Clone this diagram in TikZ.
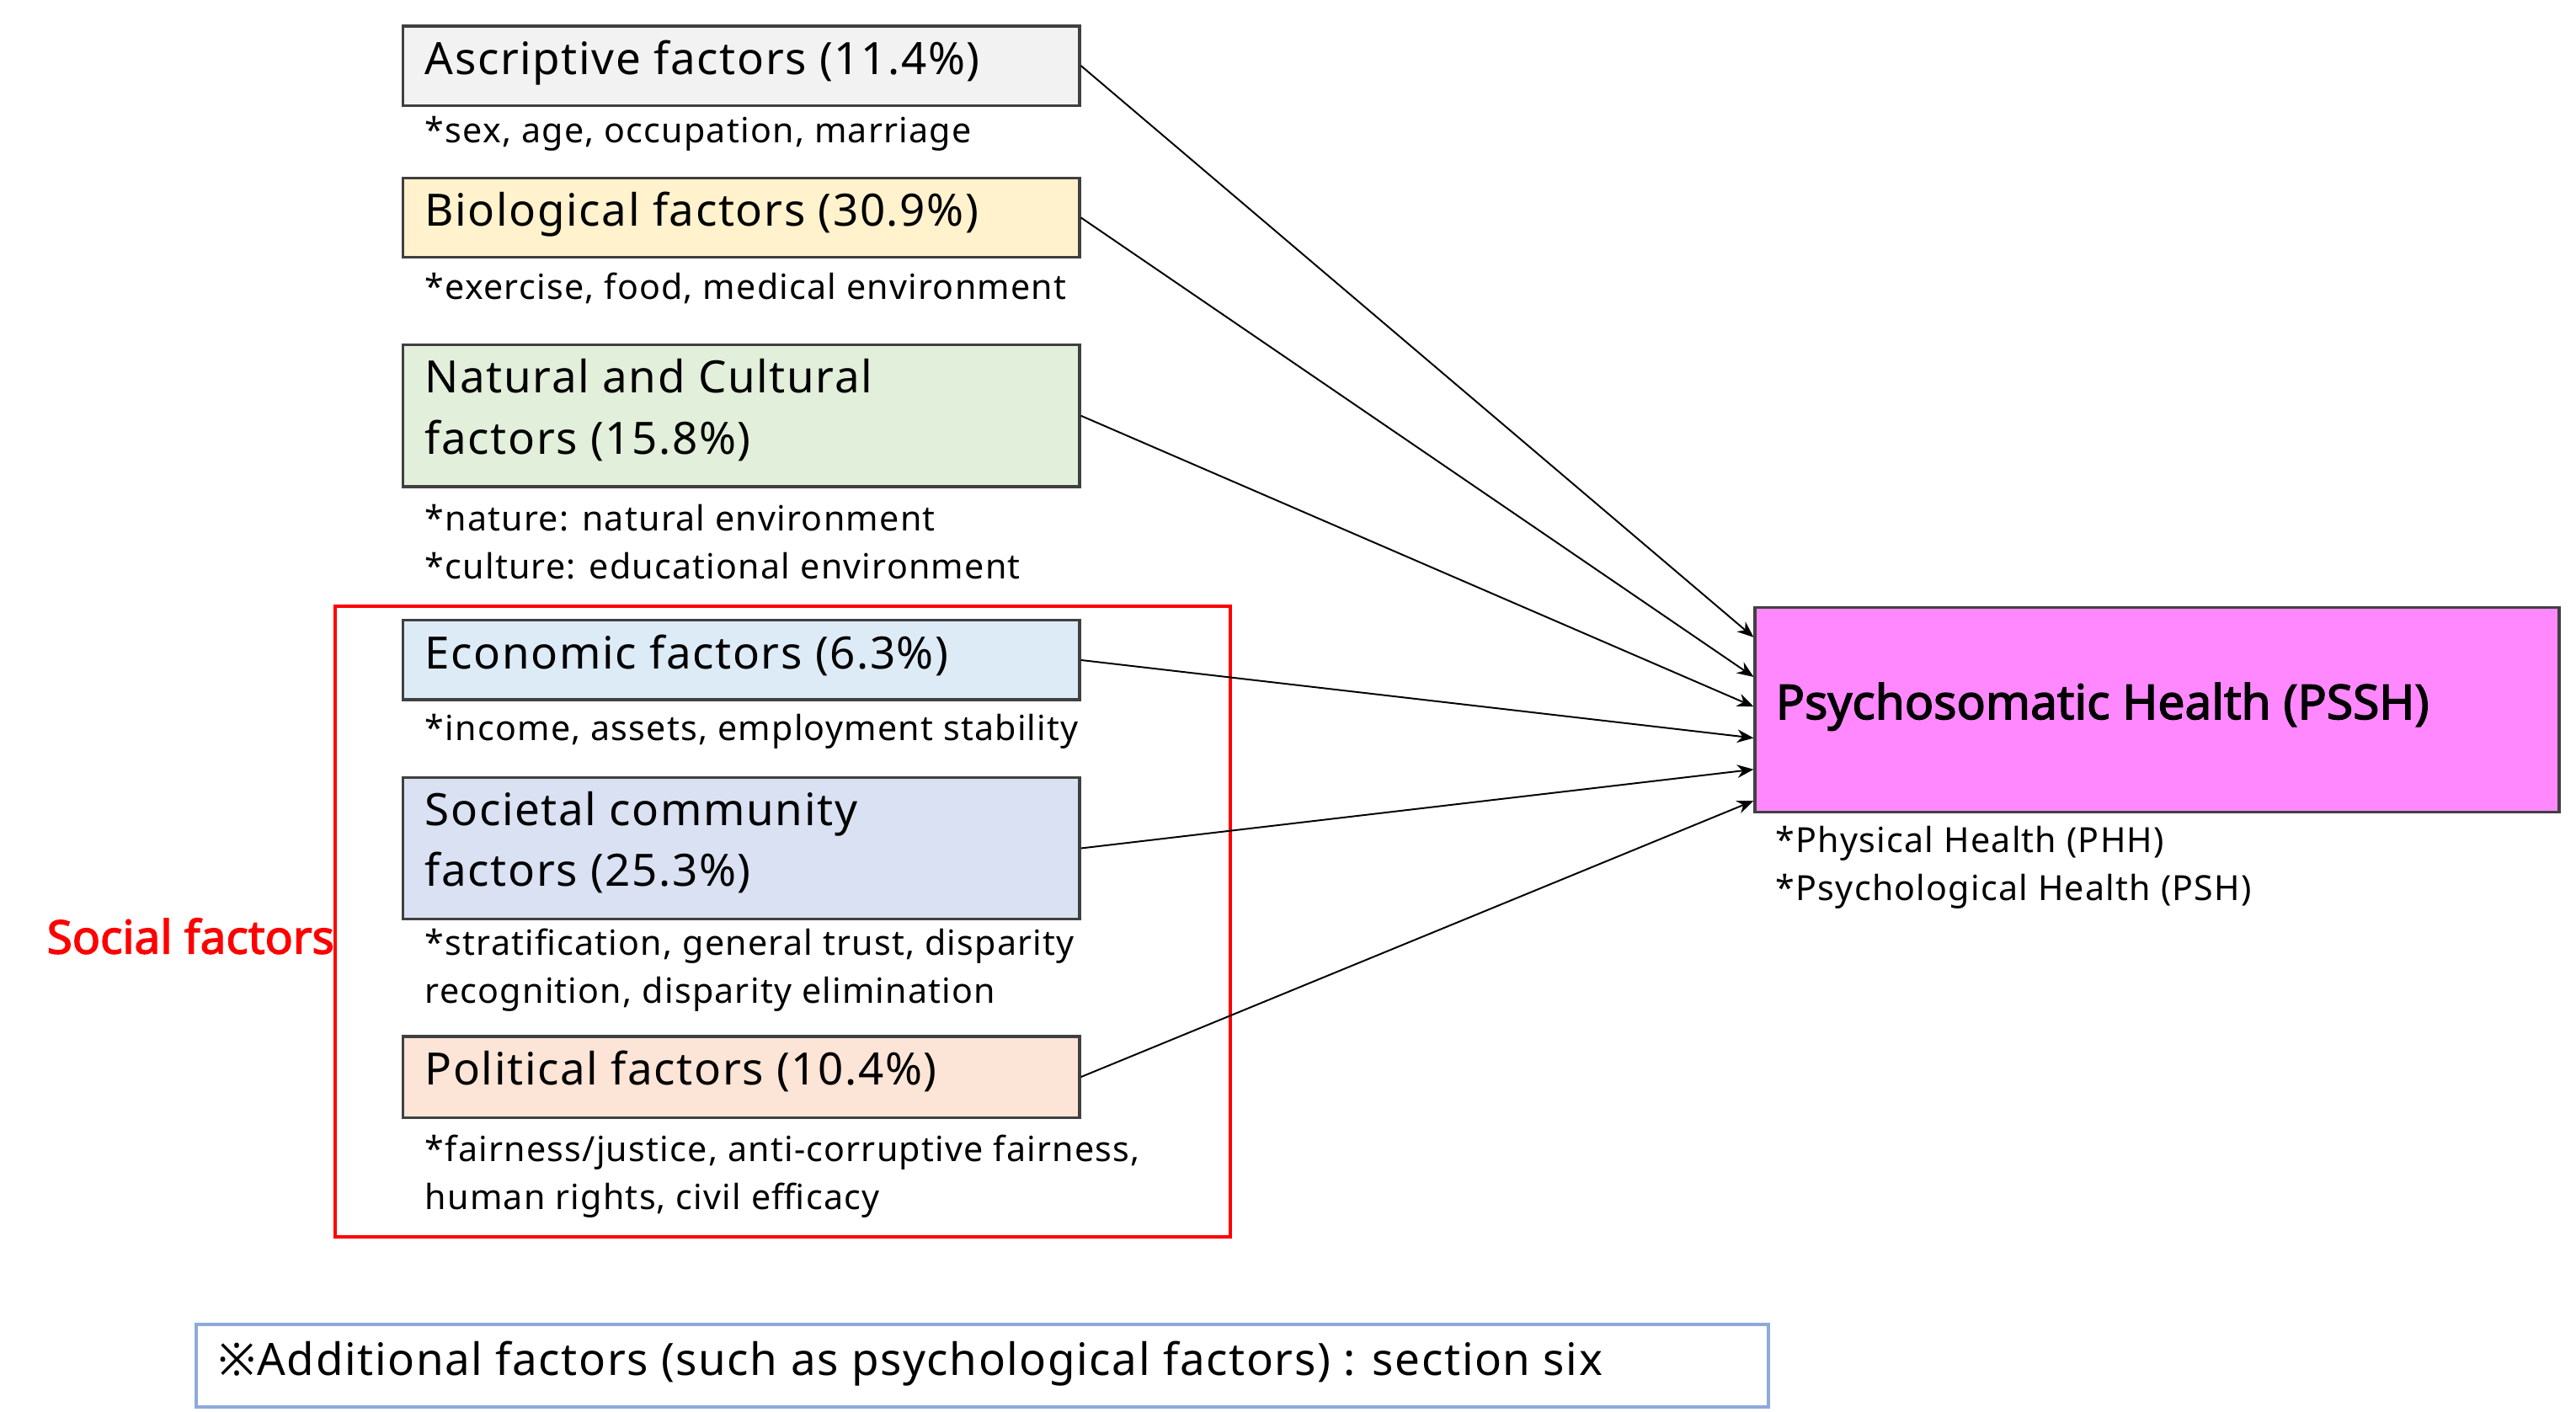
\documentclass[tikz,border=0pt]{standalone}
\usepackage{fontspec}
\setmainfont{Noto Sans}[LetterSpace=3]
\newfontfamily\bsans{Noto Sans}[FakeBold=2.5]
\usetikzlibrary{arrows.meta}
\definecolor{cA}{HTML}{F2F2F2}
\definecolor{cB}{HTML}{FFF2CC}
\definecolor{cN}{HTML}{E2EFDA}
\definecolor{cE}{HTML}{DDEBF7}
\definecolor{cS}{HTML}{D9E1F2}
\definecolor{cP}{HTML}{FCE4D6}
\definecolor{cH}{HTML}{FF88FF}
\definecolor{bl}{HTML}{8EA9DB}
\begin{document}
\begin{tikzpicture}[x=0.5pt,y=-0.5pt,
 fb/.style={draw=black!75,line width=0.8pt,minimum width=205pt,anchor=north west,inner sep=0pt},
 lab/.style={anchor=north west,align=left,font=\fontsize{13.5}{18.5}\selectfont,inner sep=0pt},
 sub/.style={anchor=north west,align=left,font=\fontsize{10.5}{14.5}\selectfont,inner sep=0pt},
 ar/.style={-{Stealth[length=5pt,width=4pt]},line width=0.5pt}]
\useasboundingbox (0,0) rectangle (1560,855);
\node[fb,fill=cA,minimum height=24pt] (a) at (243,15) {};
\node[lab] at (257,24) {Ascriptive factors (11.4\%)};
\node[sub] at (257,70) {*sex, age, occupation, marriage};
\node[fb,fill=cB,minimum height=24pt] (b) at (243,107) {};
\node[lab] at (257,116) {Biological factors (30.9\%)};
\node[sub] at (257,165) {*exercise, food, medical environment};
\node[fb,fill=cN,minimum height=43pt] (n) at (243,208) {};
\node[lab] at (257,217) {Natural and Cultural\\factors (15.8\%)};
\node[sub] at (257,305) {*nature: natural environment\\*culture: educational environment};
\node[fb,fill=cE,minimum height=24pt] (e) at (243,375) {};
\node[lab] at (257,384) {Economic factors (6.3\%)};
\node[sub] at (257,432) {*income, assets, employment stability};
\node[fb,fill=cS,minimum height=43pt] (s) at (243,470) {};
\node[lab] at (257,479) {Societal community\\factors (25.3\%)};
\node[sub] at (257,562) {*stratification, general trust, disparity\\recognition, disparity elimination};
\node[fb,fill=cP,minimum height=24.5pt] (p) at (243,627) {};
\node[lab] at (257,636) {Political factors (10.4\%)};
\node[sub] at (257,687) {*fairness/justice, anti-corruptive fairness,\\human rights, civil efficacy};
\draw[red,line width=1pt] (203,367) rectangle (745,749);
\node[anchor=west,red,font=\bsans\fontsize{14}{16}\selectfont,inner sep=0pt] (sf) at (28,567) {Social factors};
\node[draw=black!75,line width=0.8pt,fill=cH,minimum width=243.5pt,minimum height=62pt,anchor=north west,inner sep=0pt] (h) at (1062,367) {};
\node[anchor=west,font=\bsans\fontsize{14.5}{16}\selectfont,inner sep=0pt] at (1075,428) {Psychosomatic Health (PSSH)};
\node[sub] at (1075,500) {*Physical Health (PHH)\\*Psychological Health (PSH)};
\node[draw=bl,line width=1pt,minimum width=476pt,minimum height=25pt,anchor=north west,inner sep=0pt] (x) at (118,801) {};
\node[anchor=west,font=\fontsize{13.5}{16}\selectfont,inner sep=0pt] at (132,826) {※Additional factors (such as psychological factors) : section six};
\draw[ar] (a.east) -- (1062,386);
\draw[ar] (b.east) -- (1062,410);
\draw[ar] (n.east) -- (1062,428);
\draw[ar] (e.east) -- (1062,447);
\draw[ar] (s.east) -- (1062,466);
\draw[ar] (p.east) -- (1062,485);
\end{tikzpicture}
\end{document}
